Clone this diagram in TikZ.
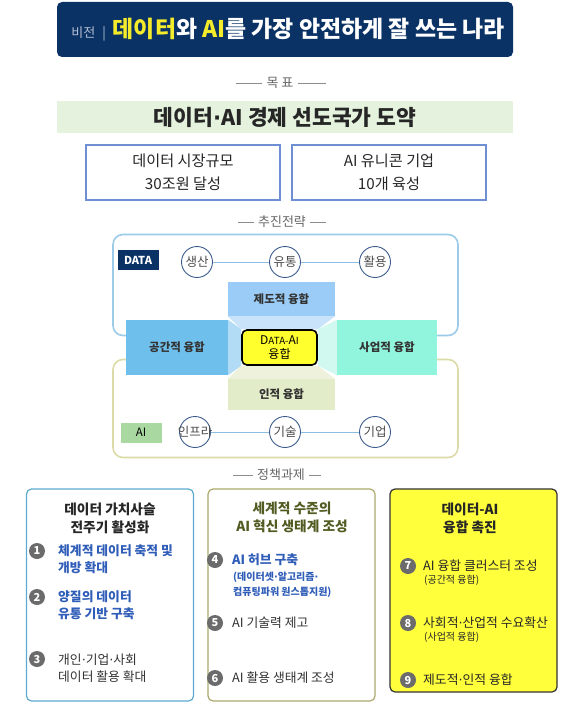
\documentclass[tikz,border=0pt]{standalone}
\usepackage{fontspec}
\setmainfont{Noto Sans CJK KR}
\newfontfamily\dotfont{DejaVu Sans}
\usetikzlibrary{backgrounds}

\newcommand\mdot{{\dotfont ·}}

\definecolor{navy}{HTML}{0B3265}
\definecolor{visgray}{HTML}{B5C0D4}
\definecolor{hiyel}{HTML}{F4EB2A}
\definecolor{lgreen}{HTML}{E5F2DE}
\definecolor{goalblue}{HTML}{6F8FD2}
\definecolor{dataline}{HTML}{9CCBEA}
\definecolor{ailine}{HTML}{DCDBA8}
\definecolor{ringblue}{HTML}{3D5C8E}
\definecolor{linkblue}{HTML}{8DBDE3}
\definecolor{aigreen}{HTML}{A9D9A0}
\definecolor{jdblue}{HTML}{9BCCF7}
\definecolor{ggblue}{HTML}{6EBFEB}
\definecolor{samint}{HTML}{91F4DC}
\definecolor{inolive}{HTML}{E3ECC8}
\definecolor{trtop}{HTML}{C8E3FA}
\definecolor{trleft}{HTML}{B2DBF5}
\definecolor{trright}{HTML}{D2F9EF}
\definecolor{trbot}{HTML}{EEF2DD}
\definecolor{coreyel}{HTML}{FFFF2E}
\definecolor{numgray}{HTML}{6B6B6B}
\definecolor{itemblue}{HTML}{2F5DB8}
\definecolor{olivetxt}{HTML}{525C22}
\definecolor{taska}{HTML}{5DA9D0}
\definecolor{taskb}{HTML}{ABAA6C}
\definecolor{taskyel}{HTML}{FFFF3C}

\tikzset{
  sect/.style={font=\fontsize{13}{13}\selectfont,text=black!60,inner sep=4pt},
  sectline/.style={draw=black!45,line width=0.7pt},
  goalbox/.style={draw=goalblue,line width=1.1pt,fill=white,minimum width=194pt,minimum height=55pt,align=center,font=\fontsize{15.2}{23}\selectfont,text=black!85},
  bigbox/.style={rounded corners=10pt,line width=1.6pt,minimum width=345pt},
  ring/.style={circle,draw=ringblue,line width=0.9pt,fill=white,minimum size=31pt,inner sep=0pt,font=\fontsize{12.5}{12.5}\selectfont,text=black!70},
  link/.style={draw=linkblue,line width=0.9pt},
  tag/.style={minimum width=41pt,minimum height=20pt,inner sep=0pt,font=\bfseries\fontsize{11}{11}\selectfont},
  fuse/.style={minimum width=107pt,inner sep=0pt,font=\bfseries\fontsize{11.5}{11.5}\selectfont,text=black!80},
  task/.style={rounded corners=5pt,line width=1.2pt,minimum width=167pt,minimum height=212pt,fill=white},
  ttl/.style={align=center,inner sep=0pt,font=\bfseries\fontsize{13.7}{17.5}\selectfont},
  num/.style={circle,fill=numgray,text=white,minimum size=16pt,inner sep=0pt,font=\bfseries\fontsize{11}{11}\selectfont},
  item/.style={anchor=west,align=left,inner sep=0pt,font=\fontsize{12.8}{17}\selectfont},
  bitem/.style={item,text=itemblue,font=\bfseries\fontsize{12.8}{17}\selectfont},
  sub/.style={anchor=west,align=left,inner sep=0pt,font=\fontsize{10}{15}\selectfont},
}

\begin{document}
\begin{tikzpicture}[x=1pt,y=-1pt]
\useasboundingbox (0,0) rectangle (588,711);

\node[fill=navy,rounded corners=5pt,minimum width=456pt,minimum height=55pt,inner sep=0pt] (vis) at (285,29.5) {\hspace{6pt}{\fontsize{13}{13}\selectfont\color{visgray}비전\hspace{7pt}|\hspace{7pt}}{\bfseries\fontsize{22.9}{23}\selectfont\color{hiyel}데이터\color{white}와 \color{hiyel}AI\color{white}를 가장 안전하게 잘 쓰는 나라}};

\node[sect] (mt) at (280,83) {목 표};
\draw[sectline] (mt.west) -- ++(-26,0);
\draw[sectline] (mt.east) -- ++(28,0);
\node[fill=lgreen,minimum width=456pt,minimum height=32pt,font=\bfseries\fontsize{21.5}{21.5}\selectfont,text=black!85] (vgoal) at (285,117.5) {데이터\mdot AI 경제 선도국가 도약};
\node[goalbox] (g1) at (183,172.5) {데이터 시장규모\\30조원 달성};
\node[goalbox] (g2) at (389,172.5) {AI 유니콘 기업\\10개 육성};

\node[sect] (cj) at (282,222) {추진전략};
\draw[sectline] (cj.west) -- ++(-16,0);
\draw[sectline] (cj.east) -- ++(16,0);

\node[tag,fill=navy,text=white] (dtag) at (138,260) {DATA};
\node[ring] (r1) at (197,262) {생산};
\node[ring] (r2) at (285,262) {유통};
\node[ring] (r3) at (375,262) {활용};
\draw[link] (r1) -- (r2) -- (r3);

\node[tag,fill=aigreen,text=black,font=\fontsize{11.5}{11.5}\selectfont] (atag) at (141,432.5) {AI};
\node[ring] (q1) at (195,432) {\makebox[22pt]{인프라}};
\node[ring] (q2) at (285,432) {기술};
\node[ring] (q3) at (375,432) {기업};
\draw[link] (q1) -- (q2) -- (q3);

\node[fuse,fill=jdblue,minimum height=34pt] (jd) at (281.5,299) {제도적 융합};
\node[fuse,fill=ggblue,minimum width=102pt,minimum height=55pt] (gg) at (177,347.5) {공간적 융합};
\node[fuse,fill=samint,minimum width=100pt,minimum height=55pt] (sa) at (387,347.5) {사업적 융합};
\node[fuse,fill=inolive,minimum height=31pt] (ij) at (281.5,394.5) {인적 융합};
\node[fill=coreyel,draw=black,line width=1.6pt,rounded corners=5pt,minimum width=75pt,minimum height=35pt,inner sep=0pt,align=center,font=\fontsize{12}{14}\selectfont] (core) at (279.5,347.5) {D{\fontsize{9.8}{14}\selectfont ATA-}A{\fontsize{9.8}{14}\selectfont I}\\융합};

\begin{scope}[on background layer]
\node[bigbox,draw=dataline,minimum height=101pt] (dbox) at (285.5,285) {};
\node[bigbox,draw=ailine,minimum height=98pt] (abox) at (285.5,408.5) {};
\fill[trtop] (jd.south west) -- (jd.south east) -- (core.north east) -- (core.north west) -- cycle;
\fill[trleft] (gg.north east) -- (core.north west) -- (core.south west) -- (gg.south east) -- cycle;
\fill[trright] (sa.north west) -- (core.north east) -- (core.south east) -- (sa.south west) -- cycle;
\fill[trbot] (ij.north west) -- (ij.north east) -- (core.south east) -- (core.south west) -- cycle;
\end{scope}

\node[sect] (jc) at (281,475) {정책과제};
\draw[sectline] (jc.west) -- ++(-20,0);
\draw[sectline] (jc.east) -- ++(12,0);

\node[task,draw=taska] (ta) at (110,595) {};
\node[task,draw=taskb] (tb) at (291.5,595) {};
\node[task,draw=black!80,fill=taskyel,minimum height=203pt] (tc) at (473.5,590.5) {};

\node[ttl,text=black!85] (ha) at (110,518.5) {데이터 가치사슬\\전주기 활성화};
\node[ttl,text=olivetxt] (hb) at (292,517.5) {세계적 수준의\\AI 혁신 생태계 조성};
\node[ttl,text=black!85] (hc) at (470,518.5) {데이터-AI\\융합 촉진};

\node[num] (n1) at (37,551) {1};
\node[bitem] (t1) at (58,559) {체계적 데이터 축적 및\\개방 확대};
\node[num] (n2) at (37,597) {2};
\node[bitem] (t2) at (58,605) {양질의 데이터\\유통 기반 구축};
\node[num] (n3) at (37,659) {3};
\node[item,text=black!80] (t3) at (58,668) {개인\mdot 기업\mdot 사회\\데이터 활용 확대};

\node[num] (n4) at (215,560) {4};
\node[bitem] (t4) at (232,560) {AI 허브 구축};
\node[sub,text=itemblue,font=\bfseries\fontsize{10}{15}\selectfont] (s4) at (233,584.5) {(데이터셋\mdot 알고리즘\mdot\\컴퓨팅파워 원스톱지원)};
\node[num] (n5) at (215,623) {5};
\node[item,text=black!80] (t5) at (232,623) {AI 기술력 제고};
\node[num] (n6) at (215,678) {6};
\node[item,text=black!80] (t6) at (232,678) {AI 활용 생태계 조성};

\node[num] (n7) at (408,566) {7};
\node[item,text=black!85] (t7) at (423,566) {AI 융합 클러스터 조성};
\node[sub,text=black!85] (s7) at (424,580) {(공간적 융합)};
\node[num] (n8) at (408,623) {8};
\node[item,text=black!85] (t8) at (423,623) {사회적\mdot 산업적 수요확산};
\node[sub,text=black!85] (s8) at (424,637) {(사업적 융합)};
\node[num] (n9) at (408,680) {9};
\node[item,text=black!85] (t9) at (423,680) {제도적\mdot 인적 융합};
\end{tikzpicture}
\end{document}
